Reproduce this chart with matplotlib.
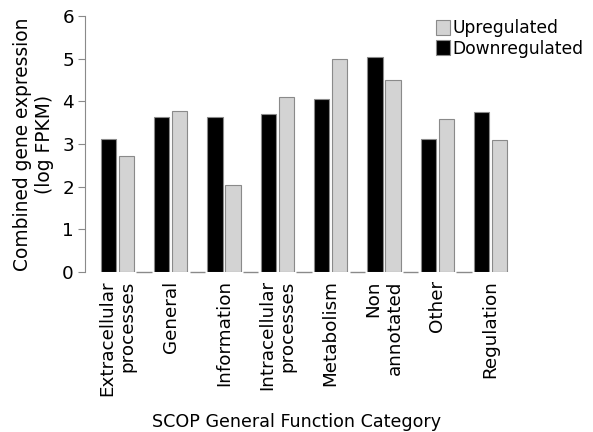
import numpy as np
import matplotlib
matplotlib.use("Agg")
import matplotlib.pyplot as plt
from matplotlib.patches import Patch

categories = ["Extracellular\nprocesses", "General", "Information", "Intracellular\nprocesses",
              "Metabolism", "Non\nannotated", "Other", "Regulation"]
downregulated = [3.11, 3.64, 3.64, 3.71, 4.06, 5.04, 3.11, 3.74]
upregulated = [2.72, 3.78, 2.03, 4.11, 5.00, 4.50, 3.58, 3.09]

EDGE, LIGHT = "#8a8a8a", "#d3d3d3"
plt.rcParams["font.family"] = "DejaVu Sans"

fig = plt.figure(figsize=(5.93, 4.32), dpi=100)
ax = fig.add_axes([85 / 593, 160 / 432, 502 / 593, 256 / 432])

n = len(categories)
x = np.arange(n) * 3
w = 0.86
ax.bar(x, downregulated, w, color="black", edgecolor=EDGE, linewidth=0.8)
ax.bar(x + 1, upregulated, w, color=LIGHT, edgecolor=EDGE, linewidth=0.8)
# empty spacer bars between the groups show up as short dashes on the baseline
ax.bar(x[:-1] + 2, np.zeros(n - 1), w, color="white", edgecolor=EDGE, linewidth=1.0, clip_on=False)

ax.set_xlim(-1.32, 26.92)
ax.set_ylim(0, 6)
ax.set_yticks(range(7))
ax.set_xticks(x + 0.5)
ax.set_xticklabels(categories, rotation=90, ha="center", va="top", multialignment="right", fontsize=13.2)
ax.tick_params(axis="x", length=0, pad=6)
ax.tick_params(axis="y", labelsize=13.2, color=EDGE, length=5, width=0.8, pad=3)
for s in ["top", "right", "bottom"]:
    ax.spines[s].set_visible(False)
ax.spines["left"].set_color(EDGE)
ax.spines["left"].set_linewidth(0.8)

ax.set_ylabel("Combined gene expression\n(log FPKM)", fontsize=13.4, labelpad=6)
fig.text(297 / 593, 1 - 422 / 432, "SCOP General Function Category", ha="center", va="center", fontsize=12.6)

handles = [Patch(facecolor=LIGHT, edgecolor=EDGE, linewidth=0.8),
           Patch(facecolor="black", edgecolor=EDGE, linewidth=0.8)]
fig.legend(handles, ["Upregulated", "Downregulated"], loc="upper left",
           bbox_to_anchor=(436 / 593, 1 - 19 / 432), frameon=False, fontsize=12.3,
           handlelength=0.8, handleheight=1.0, handletextpad=0.15, labelspacing=0.15,
           borderpad=0, borderaxespad=0)

fig.savefig("out.png", dpi=100)
